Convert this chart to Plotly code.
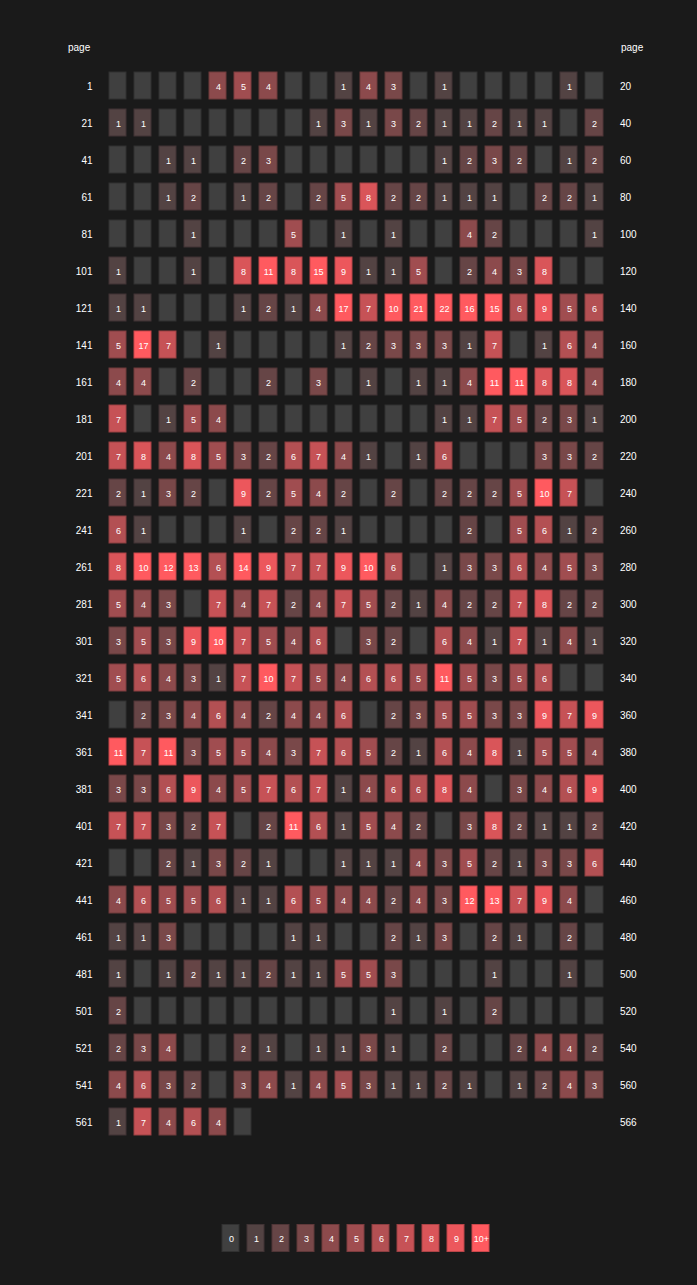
import plotly.graph_objects as go

# ---------------- data ----------------
row_start = [1, 21, 41, 61, 81, 101, 121, 141, 161, 181, 201, 221, 241, 261, 281,
             301, 321, 341, 361, 381, 401, 421, 441, 461, 481, 501, 521, 541, 561]

counts = [
    [0, 0, 0, 0, 4, 5, 4, 0, 0, 1, 4, 3, 0, 1, 0, 0, 0, 0, 1, 0],
    [1, 1, 0, 0, 0, 0, 0, 0, 1, 3, 1, 3, 2, 1, 1, 2, 1, 1, 0, 2],
    [0, 0, 1, 1, 0, 2, 3, 0, 0, 0, 0, 0, 0, 1, 2, 3, 2, 0, 1, 2],
    [0, 0, 1, 2, 0, 1, 2, 0, 2, 5, 8, 2, 2, 1, 1, 1, 0, 2, 2, 1],
    [0, 0, 0, 1, 0, 0, 0, 5, 0, 1, 0, 1, 0, 0, 4, 2, 0, 0, 0, 1],
    [1, 0, 0, 1, 0, 8, 11, 8, 15, 9, 1, 1, 5, 0, 2, 4, 3, 8, 0, 0],
    [1, 1, 0, 0, 0, 1, 2, 1, 4, 17, 7, 10, 21, 22, 16, 15, 6, 9, 5, 6],
    [5, 17, 7, 0, 1, 0, 0, 0, 0, 1, 2, 3, 3, 3, 1, 7, 0, 1, 6, 4],
    [4, 4, 0, 2, 0, 0, 2, 0, 3, 0, 1, 0, 1, 1, 4, 11, 11, 8, 8, 4],
    [7, 0, 1, 5, 4, 0, 0, 0, 0, 0, 0, 0, 0, 1, 1, 7, 5, 2, 3, 1],
    [7, 8, 4, 8, 5, 3, 2, 6, 7, 4, 1, 0, 1, 6, 0, 0, 0, 3, 3, 2],
    [2, 1, 3, 2, 0, 9, 2, 5, 4, 2, 0, 2, 0, 2, 2, 2, 5, 10, 7, 0],
    [6, 1, 0, 0, 0, 1, 0, 2, 2, 1, 0, 0, 0, 0, 2, 0, 5, 6, 1, 2],
    [8, 10, 12, 13, 6, 14, 9, 7, 7, 9, 10, 6, 0, 1, 3, 3, 6, 4, 5, 3],
    [5, 4, 3, 0, 7, 4, 7, 2, 4, 7, 5, 2, 1, 4, 2, 2, 7, 8, 2, 2],
    [3, 5, 3, 9, 10, 7, 5, 4, 6, 0, 3, 2, 0, 6, 4, 1, 7, 1, 4, 1],
    [5, 6, 4, 3, 1, 7, 10, 7, 5, 4, 6, 6, 5, 11, 5, 3, 5, 6, 0, 0],
    [0, 2, 3, 4, 6, 4, 2, 4, 4, 6, 0, 2, 3, 5, 5, 3, 3, 9, 7, 9],
    [11, 7, 11, 3, 5, 5, 4, 3, 7, 6, 5, 2, 1, 6, 4, 8, 1, 5, 5, 4],
    [3, 3, 6, 9, 4, 5, 7, 6, 7, 1, 4, 6, 6, 8, 4, 0, 3, 4, 6, 9],
    [7, 7, 3, 2, 7, 0, 2, 11, 6, 1, 5, 4, 2, 0, 3, 8, 2, 1, 1, 2],
    [0, 0, 2, 1, 3, 2, 1, 0, 0, 1, 1, 1, 4, 3, 5, 2, 1, 3, 3, 6],
    [4, 6, 5, 5, 6, 1, 1, 6, 5, 4, 4, 2, 4, 3, 12, 13, 7, 9, 4, 0],
    [1, 1, 3, 0, 0, 0, 0, 1, 1, 0, 0, 2, 1, 3, 0, 2, 1, 0, 2, 0],
    [1, 0, 1, 2, 1, 1, 2, 1, 1, 5, 5, 3, 0, 0, 0, 1, 0, 0, 1, 0],
    [2, 0, 0, 0, 0, 0, 0, 0, 0, 0, 0, 1, 0, 1, 0, 2, 0, 0, 0, 0],
    [2, 3, 4, 0, 0, 2, 1, 0, 1, 1, 3, 1, 0, 2, 0, 0, 2, 4, 4, 2],
    [4, 6, 3, 2, 0, 3, 4, 1, 4, 5, 3, 1, 1, 2, 1, 0, 1, 2, 4, 3],
    [1, 7, 4, 6, 4, 0],
]

legend_values = [0, 1, 2, 3, 4, 5, 6, 7, 8, 9, 10]
legend_labels = ["0", "1", "2", "3", "4", "5", "6", "7", "8", "9", "10+"]

# ---------------- build ----------------
W, H = 697, 1285
NCOL = 20
BG = "#1a1a1a"
FONT = "Liberation Sans, Arial, Helvetica, sans-serif"

fill_cs = [[0, "#404040"], [1, "#ff5a5f"]]
edge_cs = [[0, "#313131"], [1, "#c9474b"]]

z, txt = [], []
for row in counts:
    zr = row + [None] * (NCOL - len(row))
    z.append(zr)
    txt.append(["" if (v is None or v == 0) else str(v) for v in zr])

row_end = [s + len(r) - 1 for s, r in zip(row_start, counts)]
cols = list(range(NCOL))
rows = list(range(len(counts)))


def px_x(p):
    return p / W


def px_y(p):
    return 1 - p / H


fig = go.Figure()

# cell edges (slightly darker, larger brick)
fig.add_trace(go.Heatmap(z=z, x=cols, y=rows, zmin=0, zmax=10, colorscale=edge_cs,
                         showscale=False, xgap=7, ygap=9, hoverinfo="skip",
                         xaxis="x", yaxis="y"))
# cell fills with numbers
fig.add_trace(go.Heatmap(z=z, x=cols, y=rows, zmin=0, zmax=10, colorscale=fill_cs,
                         showscale=False, xgap=9, ygap=11, hoverinfo="skip",
                         text=txt, texttemplate="%{text}",
                         textfont=dict(family=FONT, size=9, color="#ffffff"),
                         xaxis="x", yaxis="y3"))

# legend
fig.add_trace(go.Heatmap(z=[legend_values], x=legend_values, y=[0], zmin=0, zmax=10,
                         colorscale=edge_cs, showscale=False, xgap=7, ygap=9,
                         hoverinfo="skip", xaxis="x2", yaxis="y2"))
fig.add_trace(go.Heatmap(z=[legend_values], x=legend_values, y=[0], zmin=0, zmax=10,
                         colorscale=fill_cs, showscale=False, xgap=9, ygap=11,
                         hoverinfo="skip", text=[legend_labels], texttemplate="%{text}",
                         textfont=dict(family=FONT, size=9, color="#ffffff"),
                         xaxis="x2", yaxis="y2"))

main_x = [px_x(105.5), px_x(607)]
main_y = [px_y(1140.5), px_y(67.5)]
yr = [len(counts) - 0.5, -0.5]

hidden = dict(showgrid=False, zeroline=False, showticklabels=False, ticks="",
              showline=False, fixedrange=True)

fig.update_layout(
    width=W, height=H,
    margin=dict(l=0, r=0, t=0, b=0),
    paper_bgcolor=BG, plot_bgcolor=BG,
    template="none",
    font=dict(family=FONT, size=10, color="#ffffff"),
    xaxis=dict(domain=main_x, range=[-0.5, NCOL - 0.5], anchor="y", **hidden),
    yaxis=dict(domain=main_y, range=yr, anchor="x", side="left",
               tickmode="array", tickvals=rows, ticktext=[str(s) for s in row_start],
               ticks="outside", ticklen=10, tickcolor="rgba(0,0,0,0)",
               showgrid=False, zeroline=False, showline=False,
               tickfont=dict(family=FONT, size=10, color="#ffffff"), fixedrange=True),
    yaxis3=dict(domain=main_y, range=yr, anchor="x", overlaying="y", side="right",
                tickmode="array", tickvals=rows, ticktext=[str(e) for e in row_end],
                ticks="outside", ticklen=10, tickcolor="rgba(0,0,0,0)",
                showgrid=False, zeroline=False, showline=False,
                tickfont=dict(family=FONT, size=10, color="#ffffff"), fixedrange=True),
    xaxis2=dict(domain=[px_x(218.5), px_x(493.5)], range=[-0.5, 10.5], anchor="y2", **hidden),
    yaxis2=dict(domain=[px_y(1257), px_y(1220)], range=[-0.5, 0.5], anchor="x2", **hidden),
    annotations=[
        dict(text="page", x=px_x(93), y=px_y(48), xref="paper", yref="paper",
             xanchor="right", yanchor="middle", showarrow=False,
             font=dict(family=FONT, size=10, color="#ffffff")),
        dict(text="page", x=px_x(619), y=px_y(48), xref="paper", yref="paper",
             xanchor="left", yanchor="middle", showarrow=False,
             font=dict(family=FONT, size=10, color="#ffffff")),
    ],
)

fig.write_html(
    "out.html",
    config={"displayModeBar": False, "staticPlot": True},
    post_script="document.body.style.margin='0';document.body.style.background='#1a1a1a';",
)
